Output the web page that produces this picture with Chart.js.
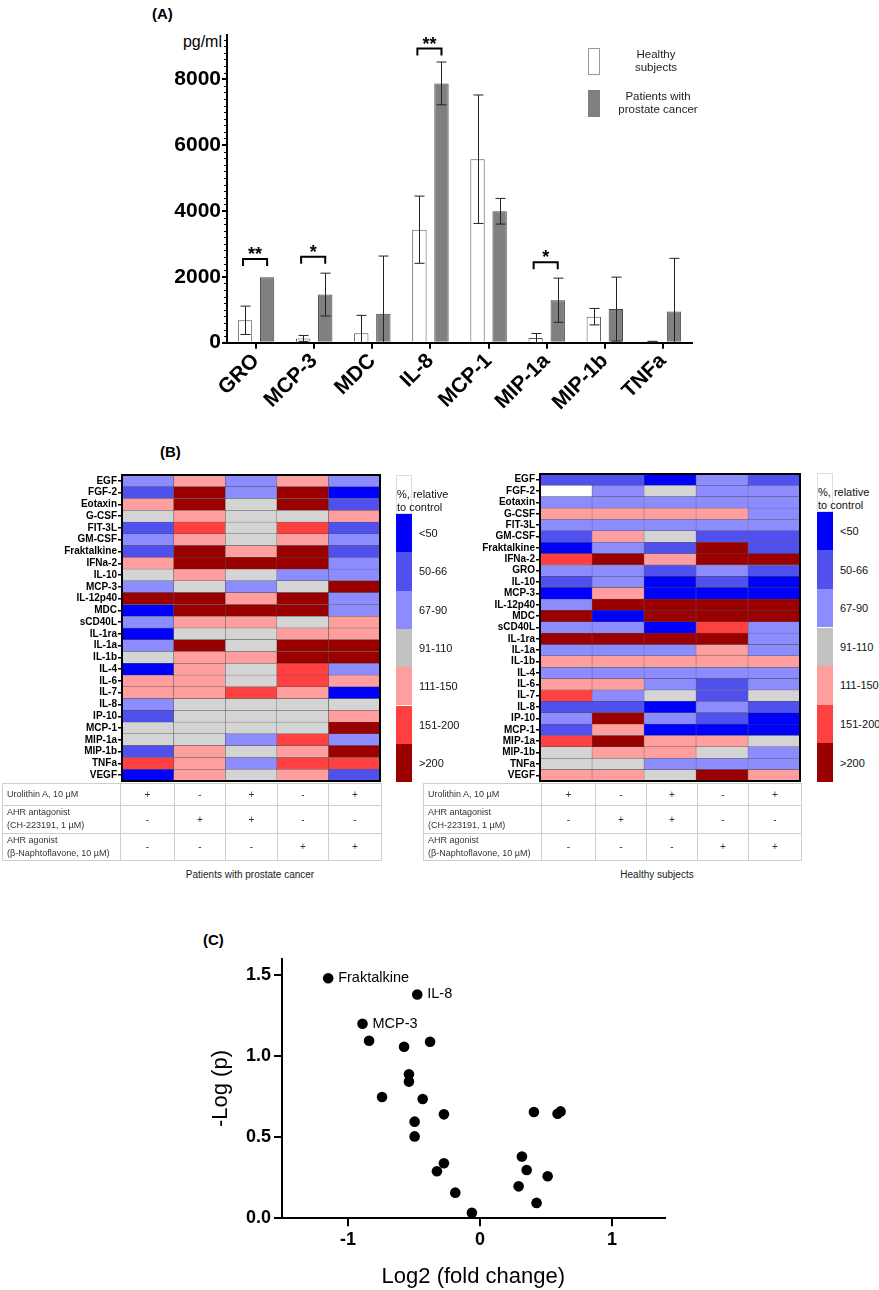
<!DOCTYPE html>
<html>
<head>
<meta charset="utf-8">
<script src="https://cdn.jsdelivr.net/npm/chart.js@4.4.1/dist/chart.umd.min.js"></script>
<style>
  body { margin: 0; background: #fff; }
  #page { position: relative; width: 879px; height: 1290px; overflow: hidden;
          font-family: "Liberation Sans", Arial, sans-serif; color: #000; }
  canvas { position: absolute; }
  .txt { position: absolute; white-space: nowrap; }
  .panel { font-weight: bold; font-size: 15px; }
  .sw { position: absolute; width: 16px; }
  .lg { position: absolute; font-size: 11px; white-space: nowrap; color: #111; }
  table.tr { position: absolute; border-collapse: collapse; table-layout: fixed;
             font-size: 9px; color: #333; }
  table.tr td { border: 1px solid #cfcfcf; padding: 0 0 0 4px; line-height: 13px; }
  table.tr td.s { text-align: center; padding: 0; font-size: 10px; }
</style>
</head>
<body>
<div id="page">
  <div class="txt panel" style="left:152px; top:5px;">(A)</div>
  <div class="txt panel" style="left:160px; top:443px;">(B)</div>
  <div class="txt panel" style="left:203px; top:931px;">(C)</div>
  <div class="txt" style="left:170px; top:33px; width:52px; text-align:right; font-size:16px;">pg/ml</div>

  <canvas id="barChart" width="620" height="400" style="left:100px; top:20px;"></canvas>
  <div id="barLegend"></div>

  <canvas id="heatLeft" width="356" height="320" style="left:30px; top:468px;"></canvas>
  <canvas id="heatRight" width="366" height="321" style="left:440px; top:467px;"></canvas>
  <div id="scales"></div>
  <div id="tables"></div>
  <div class="txt" style="left:150px; top:869px; width:200px; text-align:center; font-size:10px; color:#222;">Patients with prostate cancer</div>
  <div class="txt" style="left:557px; top:869px; width:200px; text-align:center; font-size:10px; color:#222;">Healthy subjects</div>

  <canvas id="volcano" width="500" height="345" style="left:180px; top:945px;"></canvas>
</div>

<script>
// ---- (A) cytokine levels, pg/ml ----
const barCategories = ['GRO', 'MCP-3', 'MDC', 'IL-8', 'MCP-1', 'MIP-1a', 'MIP-1b', 'TNFa'];
const healthyMean = [680, 130, 290, 3430, 5570, 140, 790, 30];
const healthySD   = [430, 90, 540, 1020, 1950, 140, 250, 12];
const cancerMean  = [1990, 1460, 880, 7870, 3990, 1290, 1020, 950];
const cancerSD    = [0, 650, 1750, 650, 390, 670, 970, 1610];
const barTicks = [0, 2000, 4000, 6000, 8000];
const sigIndex = [0, 1, 3, 5];
const sigLabel = ['**', '*', '**', '*'];
const sigLevel = [2540, 2610, 8930, 2440];

// ---- (B) heatmaps, code = colour class of the legend, -1 = no value ----
const rangeLabels = ['<50', '50-66', '67-90', '91-110', '111-150', '151-200', '>200'];
const leftRows = ['EGF', 'FGF-2', 'Eotaxin', 'G-CSF', 'FIT-3L', 'GM-CSF', 'Fraktalkine', 'IFNa-2',
  'IL-10', 'MCP-3', 'IL-12p40', 'MDC', 'sCD40L', 'IL-1ra', 'IL-1a', 'IL-1b', 'IL-4', 'IL-6',
  'IL-7', 'IL-8', 'IP-10', 'MCP-1', 'MIP-1a', 'MIP-1b', 'TNFa', 'VEGF'];
const leftCodes = [
  [2, 4, 2, 4, 2], [1, 6, 2, 6, 0], [4, 6, 3, 6, 1], [3, 4, 3, 3, 4], [1, 5, 3, 5, 1],
  [2, 4, 3, 4, 2], [1, 6, 4, 6, 1], [4, 6, 6, 6, 2], [3, 4, 3, 2, 2], [2, 3, 2, 3, 6],
  [6, 6, 4, 6, 2], [0, 6, 6, 6, 2], [2, 4, 4, 3, 4], [0, 3, 3, 4, 4], [2, 6, 3, 6, 6],
  [3, 4, 4, 6, 6], [0, 4, 3, 5, 2], [4, 4, 3, 5, 4], [4, 4, 5, 4, 0], [2, 3, 3, 3, 3],
  [1, 3, 3, 3, 4], [3, 3, 3, 3, 6], [3, 3, 2, 5, 2], [1, 4, 3, 4, 6], [5, 4, 2, 5, 5],
  [0, 4, 3, 4, 1]
];
const rightRows = ['EGF', 'FGF-2', 'Eotaxin', 'G-CSF', 'FIT-3L', 'GM-CSF', 'Fraktalkine', 'IFNa-2',
  'GRO', 'IL-10', 'MCP-3', 'IL-12p40', 'MDC', 'sCD40L', 'IL-1ra', 'IL-1a', 'IL-1b', 'IL-4',
  'IL-6', 'IL-7', 'IL-8', 'IP-10', 'MCP-1', 'MIP-1a', 'MIP-1b', 'TNFa', 'VEGF'];
const rightCodes = [
  [1, 1, 0, 2, 1], [-1, 2, 3, 2, 2], [2, 2, 2, 2, 2], [4, 4, 4, 4, 2], [2, 2, 2, 2, 2],
  [1, 4, 3, 1, 1], [0, 2, 1, 6, 1], [5, 6, 4, 6, 6], [2, 2, 1, 2, 1], [1, 2, 0, 1, 0],
  [0, 4, 0, 0, 0], [2, 6, 6, 6, 6], [6, 0, 6, 6, 6], [2, 2, 0, 5, 2], [6, 6, 6, 6, 2],
  [2, 2, 2, 4, 2], [4, 4, 4, 4, 4], [2, 2, 2, 2, 2], [4, 4, 2, 1, 2], [5, 2, 3, 1, 3],
  [1, 1, 0, 2, 1], [2, 6, 2, 1, 0], [1, 4, 0, 0, 0], [5, 6, 4, 4, 3], [3, 4, 4, 3, 2],
  [3, 3, 2, 2, 2], [4, 4, 3, 6, 4]
];
const treatmentLabels = [['Urolithin A, 10 µM'], ['AHR antagonist', '(CH-223191, 1 µM)'],
  ['AHR agonist', '(β-Naphtoflavone, 10 µM)']];
const treatmentSigns = [['+', '-', '+', '-', '+'], ['-', '+', '+', '-', '-'], ['-', '-', '-', '+', '+']];

// ---- (C) volcano plot ----
const volcanoX = [-1.15, -0.475, -0.89, -0.84, -0.575, -0.378, -0.538, -0.538, -0.742, -0.434,
  -0.273, -0.495, -0.495, -0.273, -0.326, -0.187, -0.061, 0.409, 0.588, 0.611, 0.318, 0.354,
  0.513, 0.293, 0.429];
const volcanoY = [1.48, 1.38, 1.20, 1.095, 1.058, 1.089, 0.888, 0.843, 0.748, 0.736,
  0.641, 0.596, 0.505, 0.339, 0.290, 0.158, 0.034, 0.655, 0.645, 0.659, 0.381, 0.298,
  0.259, 0.197, 0.095];
const volcanoNames = ['Fraktalkine', 'IL-8', 'MCP-3', '', '', '', '', '', '', '', '', '', '',
  '', '', '', '', '', '', '', '', '', '', '', ''];
const volcanoXTicks = [-1, 0, 1];
const volcanoYTicks = [0, 0.5, 1.0, 1.5];

const FONT = '"Liberation Sans", Arial, sans-serif';
Chart.defaults.font.family = FONT;
Chart.defaults.color = '#000';
Chart.defaults.animation = false;

const cellColors = ['#0000FF', '#5050EE', '#8C8CFF', '#D4D4D4', '#FF9E9E', '#FF4040', '#9B0000'];
const swatchColors = ['#0000FF', '#5050EE', '#8C8CFF', '#C2C2C2', '#FF9E9E', '#FF4040', '#9B0000'];
const colorFor = c => (c < 0 ? '#FFFFFF' : cellColors[c]);

// minor ticks along the y axis of (A)
const minorTicks = {
  id: 'minorTicks',
  afterDraw(chart) {
    const { ctx, scales: { y } } = chart;
    ctx.save();
    ctx.strokeStyle = '#000';
    ctx.lineWidth = 1;
    for (let v = 200; v < y.max; v += 200) {
      if (v % 2000 === 0) continue;
      const py = Math.round(y.getPixelForValue(v)) + 0.5;
      ctx.beginPath();
      ctx.moveTo(y.right - 3, py);
      ctx.lineTo(y.right, py);
      ctx.stroke();
    }
    ctx.restore();
  }
};

// SD whiskers on top of the bars
const errorBars = {
  id: 'errorBars',
  afterDatasetsDraw(chart) {
    const { ctx, scales: { y } } = chart;
    ctx.save();
    ctx.strokeStyle = '#222';
    ctx.lineWidth = 1;
    [[healthyMean, healthySD], [cancerMean, cancerSD]].forEach(([m, sd], di) => {
      chart.getDatasetMeta(di).data.forEach((bar, i) => {
        if (!sd[i]) return;
        const hi = y.getPixelForValue(m[i] + sd[i]);
        const loVal = m[i] - sd[i];
        const lo = y.getPixelForValue(Math.max(loVal, 0));
        const x = Math.round(bar.x) + 0.5;
        ctx.beginPath();
        ctx.moveTo(x, hi); ctx.lineTo(x, lo);
        ctx.moveTo(x - 5, hi); ctx.lineTo(x + 5, hi);
        if (loVal >= 0) { ctx.moveTo(x - 5, lo); ctx.lineTo(x + 5, lo); }
        ctx.stroke();
      });
    });
    ctx.restore();
  }
};

// significance brackets
const sigBrackets = {
  id: 'sigBrackets',
  afterDatasetsDraw(chart) {
    const { ctx, scales: { y } } = chart;
    const m0 = chart.getDatasetMeta(0).data, m1 = chart.getDatasetMeta(1).data;
    ctx.save();
    ctx.strokeStyle = '#000';
    ctx.lineWidth = 2;
    ctx.fillStyle = '#000';
    ctx.font = 'bold 18px ' + FONT;
    ctx.textAlign = 'center';
    ctx.textBaseline = 'alphabetic';
    sigIndex.forEach((ci, k) => {
      const x1 = m0[ci].x - 2, x2 = m1[ci].x;
      const yb = y.getPixelForValue(sigLevel[k]);
      ctx.beginPath();
      ctx.moveTo(x1, yb + 7); ctx.lineTo(x1, yb); ctx.lineTo(x2, yb); ctx.lineTo(x2, yb + 7);
      ctx.stroke();
      ctx.fillText(sigLabel[k], (x1 + x2) / 2, yb + 1);
    });
    ctx.restore();
  }
};

new Chart(document.getElementById('barChart'), {
  type: 'bar',
  data: {
    labels: barCategories,
    datasets: [
      { label: 'Healthy subjects', data: healthyMean, backgroundColor: '#FFFFFF',
        borderColor: '#555', borderWidth: 1, categoryPercentage: 0.76, barPercentage: 0.65 },
      { label: 'Patients with prostate cancer', data: cancerMean, backgroundColor: '#808080',
        borderColor: '#444', borderWidth: 1, categoryPercentage: 0.76, barPercentage: 0.65 }
    ]
  },
  options: {
    responsive: false,
    layout: { padding: { left: 0, top: 15, right: 28, bottom: 0 } },
    plugins: { legend: { display: false }, tooltip: { enabled: false } },
    scales: {
      x: {
        grid: { drawOnChartArea: false, offset: false, tickLength: 6, color: '#000', lineWidth: 2 },
        border: { color: '#000', width: 2 },
        ticks: { autoSkip: false, maxRotation: 45, minRotation: 45, padding: 0,
                 font: { size: 21, weight: 'bold' } },
        afterFit: s => { s.height = 77.3; }
      },
      y: {
        min: 0, max: 9340,
        grid: { drawOnChartArea: false, tickLength: 5, color: '#000', lineWidth: 2 },
        border: { color: '#000', width: 2 },
        ticks: { padding: 1, includeBounds: false, font: { size: 21, weight: 'bold' },
                 callback: v => String(v) },
        afterBuildTicks: s => { s.ticks = barTicks.map(v => ({ value: v })); },
        afterFit: s => { s.width = 127; }
      }
    }
  },
  plugins: [minorTicks, errorBars, sigBrackets]
});

// legend of (A)
document.getElementById('barLegend').innerHTML =
  '<div class="sw" style="left:588px; top:48px; width:12px; height:27px; border:1px solid #999; background:#fff; box-sizing:border-box;"></div>' +
  '<div class="sw" style="left:588px; top:90px; width:12px; height:27px; background:#808080;"></div>' +
  '<div class="txt" style="left:606px; top:48px; width:100px; text-align:center; font-size:11.5px; line-height:13px; color:#222;">Healthy<br>subjects</div>' +
  '<div class="txt" style="left:606px; top:90px; width:104px; text-align:center; font-size:11.5px; line-height:13px; color:#222;">Patients with<br>prostate cancer</div>';

// heavy frame round the heatmap
const frame = {
  id: 'frame',
  afterDraw(chart) {
    const { ctx, chartArea: a } = chart;
    ctx.save();
    ctx.strokeStyle = '#000';
    ctx.lineWidth = 2;
    ctx.strokeRect(a.left, a.top, a.right - a.left, a.bottom - a.top);
    ctx.restore();
  }
};

function heatmap(id, rows, codes, yWidth) {
  const columns = [0, 1, 2, 3, 4];
  return new Chart(document.getElementById(id), {
    type: 'bar',
    data: {
      labels: rows,
      datasets: columns.map(j => ({
        data: rows.map(() => [j, j + 1]),
        backgroundColor: codes.map(r => colorFor(r[j])),
        borderColor: 'rgba(50,50,50,0.75)',
        borderWidth: 0.5,
        borderSkipped: false,
        grouped: false,
        categoryPercentage: 1,
        barPercentage: 1
      }))
    },
    options: {
      indexAxis: 'y',
      responsive: false,
      layout: { padding: { left: 0, top: 7, right: 6, bottom: 6 } },
      plugins: { legend: { display: false }, tooltip: { enabled: false } },
      scales: {
        x: { display: false, min: 0, max: 5 },
        y: {
          grid: { drawOnChartArea: false, offset: false, tickLength: 4, color: '#000', lineWidth: 1.5 },
          border: { display: false },
          ticks: { autoSkip: false, padding: 1, font: { size: 10, weight: 'bold' } },
          afterFit: s => { s.width = yWidth; }
        }
      }
    },
    plugins: [frame]
  });
}

heatmap('heatLeft', leftRows, leftCodes, 92);
heatmap('heatRight', rightRows, rightCodes, 100);

// colour keys
function colourKey(left, top, whiteH, boxH) {
  let html = '<div class="sw" style="left:' + left + 'px; top:' + top + 'px; height:' + whiteH +
    'px; border:1px solid #ddd; box-sizing:border-box; background:#fff;"></div>';
  html += '<div class="lg" style="left:' + (left + 1) + 'px; top:' + (top + 13) +
    'px; line-height:12.5px;">%, relative<br>to control</div>';
  rangeLabels.forEach((lab, i) => {
    const t = top + whiteH + i * boxH;
    html += '<div class="sw" style="left:' + left + 'px; top:' + t + 'px; height:' + boxH +
      'px; background:' + swatchColors[i] + ';"></div>';
    html += '<div class="lg" style="left:' + (left + 23) + 'px; top:' + (t + boxH / 2 - 7) +
      'px; line-height:14px;">' + lab.replace('<', '&lt;').replace('>', '&gt;') + '</div>';
  });
  return html;
}
document.getElementById('scales').innerHTML =
  colourKey(396, 475, 39, 38.3) + colourKey(817, 473, 38.7, 38.6);

// treatment tables
function treatmentTable(left, widths) {
  const heights = [22, 27.7, 27.3];
  let html = '<table class="tr" style="left:' + left + 'px; top:783px; width:' +
    widths.reduce((a, b) => a + b, 0) + 'px;"><colgroup>';
  widths.forEach(w => { html += '<col style="width:' + w + 'px">'; });
  html += '</colgroup>';
  treatmentLabels.forEach((lab, r) => {
    html += '<tr style="height:' + heights[r] + 'px"><td>' + lab.join('<br>') + '</td>';
    treatmentSigns[r].forEach(s => { html += '<td class="s">' + s + '</td>'; });
    html += '</tr>';
  });
  return html + '</table>';
}
document.getElementById('tables').innerHTML =
  treatmentTable(2, [118, 54, 51, 52, 51, 53]) +
  treatmentTable(423, [117.7, 54.3, 51, 50.7, 51.3, 53]);

// names next to the labelled points
const pointNames = {
  id: 'pointNames',
  afterDatasetsDraw(chart) {
    const { ctx } = chart;
    ctx.save();
    ctx.fillStyle = '#000';
    ctx.font = '14.5px ' + FONT;
    ctx.textBaseline = 'middle';
    chart.getDatasetMeta(0).data.forEach((pt, i) => {
      if (volcanoNames[i]) ctx.fillText(volcanoNames[i], pt.x + 10, pt.y);
    });
    ctx.restore();
  }
};

new Chart(document.getElementById('volcano'), {
  type: 'scatter',
  data: {
    datasets: [{
      data: volcanoX.map((x, i) => ({ x: x, y: volcanoY[i] })),
      pointRadius: 5.3,
      pointBackgroundColor: '#000',
      pointBorderWidth: 0,
      clip: false
    }]
  },
  options: {
    responsive: false,
    layout: { padding: { left: 28, top: 10.3, right: 15.3, bottom: 0 } },
    plugins: { legend: { display: false }, tooltip: { enabled: false } },
    scales: {
      x: {
        type: 'linear', min: -1.5, max: 1.4,
        grid: { drawOnChartArea: false, tickLength: 8, color: '#000', lineWidth: 2 },
        border: { color: '#000', width: 2 },
        ticks: { padding: 3, font: { size: 18, weight: 'bold' }, callback: v => String(v) },
        afterBuildTicks: s => { s.ticks = volcanoXTicks.map(v => ({ value: v })); },
        title: { display: true, text: 'Log2 (fold change)', font: { size: 22 }, padding: 0 },
        afterFit: s => { s.height = 71.7; }
      },
      y: {
        min: 0, max: 1.6,
        grid: { drawOnChartArea: false, tickLength: 8, color: '#000', lineWidth: 2 },
        border: { color: '#000', width: 2 },
        ticks: { padding: 3, font: { size: 18, weight: 'bold' }, callback: v => v.toFixed(1) },
        afterBuildTicks: s => { s.ticks = volcanoYTicks.map(v => ({ value: v })); },
        title: { display: true, text: '-Log (p)', font: { size: 22 }, padding: 0 },
        afterFit: s => { s.width = 74; }
      }
    }
  },
  plugins: [pointNames]
});
</script>
</body>
</html>
